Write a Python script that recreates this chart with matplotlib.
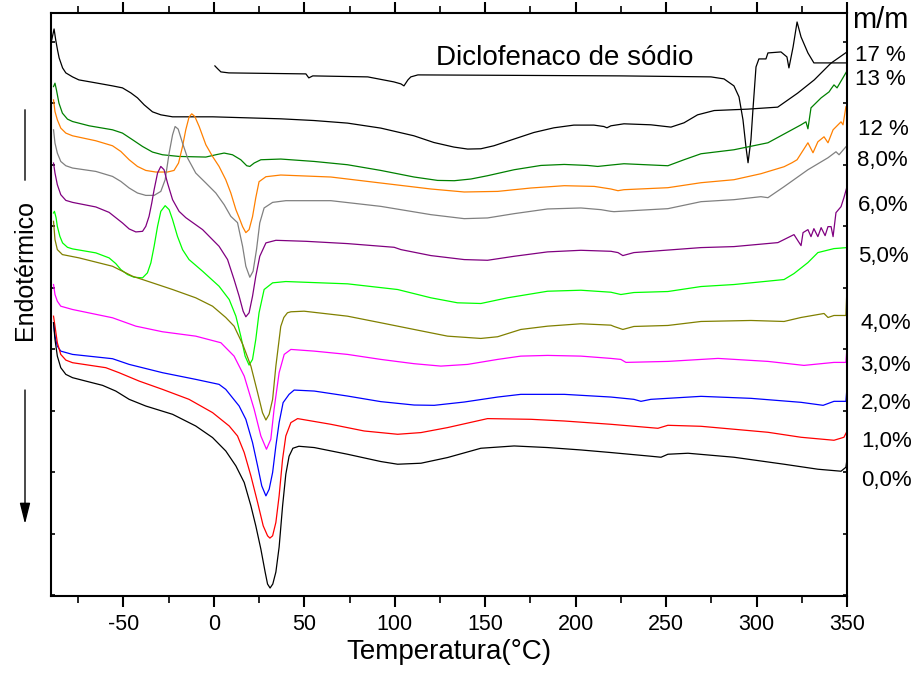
import matplotlib
matplotlib.use("Agg")
import matplotlib.pyplot as plt

plt.rcParams['font.family'] = ['Liberation Sans', 'DejaVu Sans']
plt.rcParams['axes.unicode_minus'] = False

# DSC curves, heat flow in arbitrary units (stacked, endo down)
t_17 = [-89.6, -88.3, -87.4, -86.4, -85.5, -83.6, -81.8, -78.1, -74.6, -65.2, -56.0, -50.5, -45.9, -42.2, -38.5,
        -33.9, -29.3, -22.8, -0.6, 37.0, 55.3, 73.9, 92.3, 110.6, 121.6, 132.7, 140.3, 147.6, 154.8, 165.9, 176.9,
        188.0, 199.0, 210.1, 215.6, 217.3, 219.5, 226.7, 241.6, 252.7, 259.9, 267.4, 276.6, 295.1, 311.7, 313.5,
        322.7, 331.9, 341.1, 350.0]
hf_17 = [40, 29, 40, 50, 58, 68, 73, 77, 80, 83, 86, 88, 93, 98, 105,
         112, 115, 117, 117, 119, 120.7, 123.3, 128.3, 136, 142.7, 147.3, 149.3, 149, 146, 139.3, 132.7,
         128, 125.3, 125.3, 126.7, 128, 126, 124, 125, 127.3, 123, 115, 110.7, 109.3, 107.3, 105,
         93.3, 80, 63.3, 52]

t_dic = [0.6, 2.2, 3.9, 8.3, 50.9, 52.5, 54.7, 85.1, 99.5, 103.4, 105.1, 107.3, 108.9, 112.8, 225.0, 274.8, 282.0,
         287.5, 290.3, 292.5, 294.2, 295.3, 296.9, 298.0, 299.7, 301.3, 305.2, 306.3, 313.5, 316.8, 317.9, 320.2,
         322.4, 324.6, 328.4, 331.7, 337.3, 350.0]
hf_dic = [66, 69, 72, 73, 74, 78, 76, 77, 82, 84, 86, 80, 77, 75, 76, 77, 79,
          86, 97, 120, 148, 163, 140, 110, 67, 59, 59, 53, 52, 57, 68, 47,
          22, 37, 53, 63, 63, 63]

t_13 = [-88.6, -87.8, -87.0, -85.6, -83.7, -80.9, -78.1, -68.9, -56.0, -50.5, -44.9, -39.4, -33.9, -28.4, -19.2,
        -4.4, 1.1, 5.7, 10.3, 14.9, 18.2, 19.9, 22.3, 26.0, 37.0, 55.5, 73.9, 92.3, 110.7, 123.7, 132.9, 142.1,
        151.3, 166.0, 180.8, 193.7, 206.6, 212.2, 219.5, 226.7, 251.0, 259.9, 269.3, 287.5, 306.3, 324.6, 327.3,
        328.4, 330.1, 335.7, 340.1, 341.2, 342.8, 344.5, 350.0]
hf_13 = [86.7, 83.3, 90, 103.3, 113.3, 119.3, 121.7, 126, 130, 133.3, 140, 146.7, 152.3, 155, 156.7,
         157.3, 155, 153.3, 155, 160, 166, 166.7, 163.3, 160, 159.3, 161.7, 165, 170.7, 177.3, 180.7, 181, 179.3,
         176, 170, 165.7, 164.7, 165.7, 166.7, 165.3, 164, 166, 160, 154, 150, 143, 125, 122,
         129, 108, 98, 92, 89, 85, 88, 71]

t_12 = [-88.6, -87.8, -86.5, -84.6, -81.8, -78.1, -65.2, -56.0, -51.4, -46.8, -42.2, -37.6, -32.1, -25.6, -22.0,
        -19.5, -17.3, -15.5, -13.7, -12.2, -10.5, -8.1, -4.4, -0.7, 2.9, 6.6, 9.4, 12.2, 14.0, 15.9, 17.7, 19.5,
        21.4, 23.2, 25.0, 28.8, 37.0, 64.7, 92.3, 120.0, 138.4, 156.9, 175.3, 193.7, 210.3, 219.5, 223.4, 226.7,
        251.0, 269.3, 287.5, 302.4, 315.2, 319.6, 322.4, 328.4, 331.2, 333.9, 337.3, 339.5, 342.3, 346.7, 347.8,
        349.4]
hf_12 = [100, 111.7, 120, 128.3, 133.3, 136, 141, 146, 151.7, 160, 166.7, 170.7, 172.3, 172.3, 170.7,
         163.3, 146.7, 130, 117.3, 114, 116.7, 126.7, 145, 156.7, 166.7, 180, 193.3, 210, 218, 227, 233, 230,
         217, 198, 182, 177, 175.3, 177.3, 183.3, 189.3, 192.3, 191.7, 188.3, 186, 186.7, 189.3, 191, 190,
         188, 183, 180, 174, 167, 163, 160, 143, 153, 142, 137, 143, 130, 122, 125,
         107]

t_8 = [-88.6, -87.8, -86.5, -84.6, -81.8, -78.1, -65.2, -56.0, -51.4, -46.8, -42.2, -37.6, -33.0, -29.3, -26.9,
       -24.7, -22.8, -21.4, -19.7, -17.3, -14.5, -10.0, -4.4, 1.1, 5.7, 9.4, 13.1, 15.9, 17.7, 19.9, 21.7, 23.6,
       25.4, 27.8, 32.5, 39.8, 64.7, 92.3, 120.0, 138.4, 151.3, 166.0, 184.5, 202.9, 214.0, 219.5, 221.2, 251.0,
       269.3, 287.5, 302.4, 306.3, 315.2, 328.4, 339.5, 343.9, 345.6, 349.4]
hf_8 = [130, 143.3, 153.3, 161.7, 166, 168.3, 171.7, 176.7, 181.7, 188.3, 193.3, 195.7, 195.7, 191.7, 180,
        153.3, 135, 126.7, 129.3, 143.3, 158.3, 173.3, 183.3, 193.3, 205, 216.7, 223, 246.7, 266.7, 277.7, 271.7, 250,
        223.3, 208.3, 202.7, 201, 201, 206.7, 215, 219, 218.3, 214, 209.3, 208.3, 210, 211.7, 212, 209,
        202, 200, 197, 198, 187, 170, 158, 152, 155, 147]

t_6 = [-88.6, -87.8, -86.5, -84.6, -81.8, -78.1, -65.2, -57.9, -50.5, -46.8, -43.1, -39.4, -37.6, -35.8, -34.3,
       -33.0, -31.1, -29.3, -27.5, -25.6, -22.8, -19.2, -15.5, -6.2, 2.9, 7.6, 11.2, 14.0, 16.2, 17.7, 19.5, 21.4,
       23.2, 25.4, 28.8, 34.3, 50.9, 73.9, 99.7, 103.4, 120.0, 138.4, 151.3, 166.0, 184.5, 202.9, 219.5, 223.4,
       226.1, 232.2, 269.3, 287.5, 311.8, 320.7, 324.6, 325.7, 328.4, 330.1, 331.7, 333.9, 335.7, 337.9, 339.5,
       341.2, 342.3, 343.9, 346.7, 348.3, 350.0]
hf_6 = [163.3, 173.3, 185, 195, 200.7, 202.7, 207.3, 212.7, 223.3, 229.3, 232.3, 231.7, 226.7, 216.7, 203.3,
        190, 173.3, 166.7, 170, 183.3, 200, 211.7, 218, 230, 246.7, 260, 280, 296.7, 311.7, 317.3, 313.3, 296.7,
        276.7, 256.7, 243.3, 240.7, 241.7, 244, 247.7, 250, 256, 260, 260.7, 256.7, 252.3, 250.7, 251.7, 253,
        256, 253, 248, 247, 243, 235, 246, 233, 230, 237, 229, 237, 228, 236, 227,
        227, 237, 213, 207, 198, 187]

t_5 = [-88.6, -88.1, -87.2, -86.5, -85.1, -83.6, -80.9, -78.1, -65.2, -57.9, -54.2, -51.4, -47.7, -44.1, -39.4,
       -36.7, -34.8, -33.0, -31.1, -29.3, -26.9, -24.7, -22.8, -20.1, -17.3, -13.7, -6.2, 2.9, 8.5, 12.2, 14.9,
       17.3, 19.5, 21.4, 23.2, 25.0, 27.8, 32.5, 39.8, 73.9, 101.6, 120.0, 134.7, 147.6, 162.4, 184.5, 202.9,
       219.5, 225.0, 232.2, 251.0, 269.3, 287.5, 315.2, 320.7, 328.4, 333.9, 342.8, 350.0]
hf_5 = [213.3, 211.7, 218, 226.7, 236.7, 243.3, 247.7, 249.3, 253.3, 258.3, 264, 270, 275, 277.7, 278.3,
        273.3, 263.3, 246.7, 226.7, 211.7, 206, 210, 220, 236.7, 250, 260, 271.7, 286.7, 300, 316.7, 336.7,
        356.7, 365.7, 360, 340, 313.3, 290, 283.3, 282, 284.3, 290, 298.3, 303.3, 304, 298.3, 291.7, 290.7,
        292.7, 295, 293, 292, 287, 285, 280, 274, 263, 253, 249, 248]

t_4 = [-88.6, -87.8, -86.5, -83.7, -74.5, -56.0, -44.9, -33.9, -22.8, -10.0, -0.7, 6.6, 11.2, 16.0, 20.5, 24.2,
       26.9, 28.8, 30.6, 32.5, 34.3, 37.0, 38.7, 40.7, 42.6, 49.9, 73.9, 92.3, 110.7, 129.2, 147.6, 156.9, 169.7,
       184.5, 202.9, 219.5, 221.2, 226.1, 232.2, 251.0, 269.3, 296.9, 315.2, 324.6, 337.3, 339.5, 342.8, 349.4,
       350.0]
hf_4 = [221.7, 240, 250, 255, 258.3, 266.7, 276.7, 283.3, 290, 298.3, 306.7, 318, 326.7, 345, 366.7, 393.3,
        413.3, 420.7, 415, 400, 366.7, 327, 318, 313.3, 312.3, 311.7, 316.7, 323.3, 330, 336.7, 339, 337.3, 330,
        326.7, 324.3, 325.7, 327, 330, 327, 326, 322, 321, 322, 318, 314, 318, 316, 316,
        287]

t_3 = [-88.6, -87.8, -86.5, -84.6, -78.1, -56.0, -43.1, -28.4, -10.0, 3.9, 11.2, 16.8, 22.3, 26.0, 29.1, 31.5,
       33.3, 36.1, 38.9, 42.6, 55.5, 73.9, 92.3, 110.7, 125.5, 140.3, 156.9, 169.7, 184.5, 202.9, 219.5, 225.0,
       227.8, 251.0, 278.7, 306.3, 326.2, 342.8, 349.4, 350.0]
hf_3 = [285, 295, 301.7, 306.7, 310, 318.3, 326.7, 332.3, 336.7, 343.3, 356.7, 376.7, 410, 436.7, 450, 440,
        410, 373.3, 355, 350, 351.7, 355, 360, 364.3, 366.7, 365, 360, 356.7, 356, 356.7, 359, 360,
        363, 362, 359, 362, 366, 363, 363, 348]

t_2 = [-88.6, -87.8, -86.5, -84.6, -78.1, -56.0, -46.8, -28.4, -10.0, 2.9, 6.6, 14.0, 17.7, 21.4, 24.2, 26.5,
       28.8, 30.6, 32.5, 34.3, 36.1, 38.3, 41.6, 44.4, 55.5, 73.9, 92.3, 110.7, 121.8, 138.4, 156.9, 169.7, 193.7,
       219.5, 232.2, 236.1, 241.6, 269.3, 296.9, 324.6, 336.8, 342.8, 349.4, 350.0]
hf_2 = [323.3, 336.7, 346.7, 351.7, 355, 359.3, 365, 373.3, 380, 385, 390, 406.7, 420, 443.3, 466.7, 486.7,
        496.7, 490, 473.3, 446.7, 423.3, 403.3, 395, 390.7, 391.7, 396.7, 402.3, 405.7, 406, 402.7, 397.7, 395, 395,
        397.7, 400, 402, 400, 397, 399, 403, 406, 402, 402, 388]

t_1 = [-88.6, -87.8, -86.5, -84.6, -81.8, -78.1, -59.7, -52.4, -41.3, -28.4, -13.7, -0.7, 8.5, 13.1, 16.8, 20.5,
       24.2, 27.3, 29.7, 31.0, 32.5, 34.3, 36.1, 38.0, 39.8, 42.6, 46.3, 64.7, 83.1, 101.6, 114.5, 129.2, 151.3,
       175.3, 193.7, 219.5, 245.5, 251.0, 269.3, 306.3, 324.6, 342.8, 348.3, 350.0]
hf_1 = [316.7, 326.7, 343.3, 355, 360.7, 363.3, 368.3, 373.3, 381.7, 390, 400, 413.3, 426.7, 436.7, 453.3, 476.7,
        503.3, 526.7, 536.7, 539, 536.7, 523.3, 496.7, 460, 436.7, 423.3, 419.3, 425, 431.7, 435, 433.3, 428.3, 419.3,
        420, 421.7, 425, 429, 426, 427, 433, 438, 441, 438, 432]

t_0 = [-88.6, -87.8, -86.5, -84.6, -81.8, -78.1, -70.8, -61.5, -54.2, -46.8, -37.6, -22.8, -10.0, -0.7, 6.6, 12.2,
       16.8, 20.5, 23.2, 26.0, 28.4, 29.7, 31.1, 32.6, 34.3, 36.1, 38.0, 39.8, 41.6, 43.7, 47.0, 55.5, 73.9, 92.3,
       101.6, 114.5, 129.2, 147.6, 166.0, 184.5, 202.9, 219.5, 241.6, 247.2, 251.0, 262.1, 287.5, 315.2, 333.9,
       346.7, 349.4, 350.0]
hf_0 = [323.3, 340, 356.7, 368.3, 375, 378.3, 381.7, 386, 391.7, 400, 406.7, 415, 426.7, 438.3, 451.7, 466.7,
        483.3, 506.7, 526.7, 550, 573.3, 585, 589, 585, 573, 548, 507, 475, 457, 449, 447, 448.3, 455, 462.3,
        465, 464, 458.3, 449, 446.7, 448.3, 450.7, 453.3, 457, 458, 455, 454, 458, 465, 470,
        472, 468, 460]

series = [
    (t_17, hf_17, '#000000'),
    (t_dic, hf_dic, '#000000'),
    (t_13, hf_13, '#008000'),
    (t_12, hf_12, '#FF8000'),
    (t_8, hf_8, '#808080'),
    (t_6, hf_6, '#800080'),
    (t_5, hf_5, '#00FF00'),
    (t_4, hf_4, '#808000'),
    (t_3, hf_3, '#FF00FF'),
    (t_2, hf_2, '#0000FF'),
    (t_1, hf_1, '#FF0000'),
    (t_0, hf_0, '#000000'),
]

labels = ['17 %', '13 %', '12 %', '8,0%', '6,0%', '5,0%', '4,0%', '3,0%', '2,0%', '1,0%', '0,0%']
label_x = [855, 855, 858, 857, 858, 858, 860, 860, 861, 861, 861]
label_base = [61, 85, 135, 166, 211, 262, 329, 371, 409, 447, 486]

W, H = 921, 675
fig = plt.figure(figsize=(W / 100, H / 100), dpi=100)
ax = fig.add_axes([51 / W, 1 - 596 / H, 796 / W, 583 / H])

for t, hf, c in series:
    ax.plot(t, hf, color=c, lw=0.9)

ax.set_xlim(-90, 350)
ax.set_ylim(597, 13)
ax.set_xticks(range(-50, 351, 50))
ax.set_xticks(range(-75, 351, 50), minor=True)
ax.set_yticks([596 - 61.6 * k for k in range(10)])
ax.set_yticklabels([])

for s in ax.spines.values():
    s.set_linewidth(1.5)
ax.tick_params(axis='x', which='major', direction='out', length=8, width=1.5, labelsize=15.5, pad=5)
ax.tick_params(axis='x', which='minor', direction='out', length=5, width=1.2)
ax.tick_params(axis='y', direction='in', length=3, width=1.2, right=True)
ax.tick_params(top=True, which='both')

ax.set_xlabel('Temperatura(°C)', fontsize=20, labelpad=3)

ax.text(122.7, 58, 'Diclofenaco de sódio', fontsize=20, va='center', ha='left')

fig.text(852 / W, 1 - 28 / H, 'm/m', fontsize=21, va='baseline', ha='left')
for lab, x, yb in zip(labels, label_x, label_base):
    fig.text(x / W, 1 - yb / H, lab, fontsize=16, va='baseline', ha='left')

fig.text(25 / W, 1 - 270 / H, 'Endotérmico', fontsize=18, rotation=90, va='center', ha='center')
ax.annotate('', xy=(25 / W, 1 - 183 / H), xytext=(25 / W, 1 - 107 / H), xycoords='figure fraction',
            arrowprops=dict(arrowstyle='-', color='k', lw=1))
ax.annotate('', xy=(25 / W, 1 - 524 / H), xytext=(25 / W, 1 - 390 / H), xycoords='figure fraction',
            arrowprops=dict(arrowstyle='-|>,head_length=0.8,head_width=0.2', color='k', lw=1,
                            mutation_scale=16, shrinkA=0, shrinkB=0))

fig.savefig('out.png', dpi=100)
